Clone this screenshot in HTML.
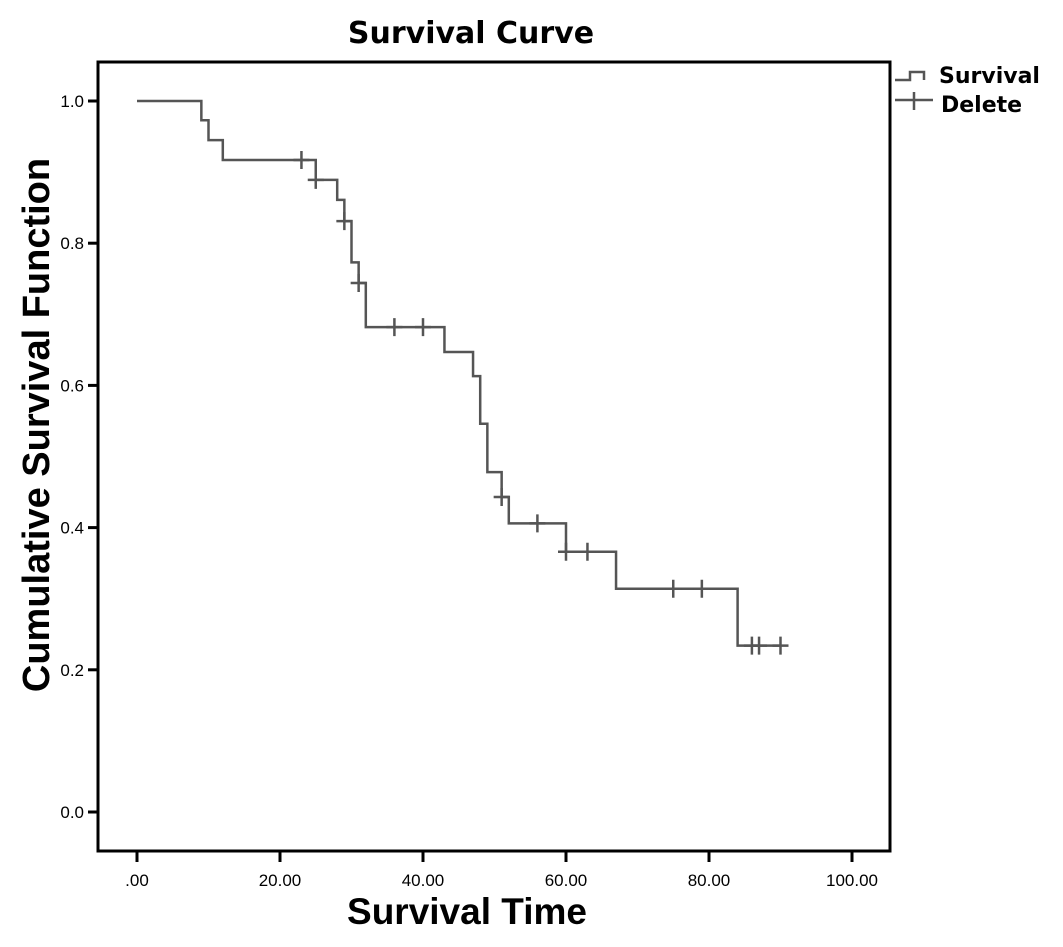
<!DOCTYPE html>
<html><head><meta charset="utf-8"><style>
body{margin:0;background:#fff;}
svg{display:block;font-family:"Liberation Sans",Arial,sans-serif;}
</style></head><body>
<svg id="chart" width="1063" height="947" viewBox="0 0 1063 947">
<text x="471" y="43" text-anchor="middle" font-size="30" font-weight="bold" font-family="DejaVu Sans, sans-serif">Survival Curve</text>
<rect x="98" y="62" width="792" height="789" fill="none" stroke="#000" stroke-width="3"/>
<g id="axes"></g>
<g id="series"></g>
<text transform="translate(49,425) rotate(-90)" text-anchor="middle" font-size="38" font-weight="bold">Cumulative Survival Function</text>
<text x="467" y="924" text-anchor="middle" font-size="37" font-weight="bold">Survival Time</text>
<g>
<path d="M895,80 H910 V72 H924 V80" fill="none" stroke="#555" stroke-width="2.5"/>
<text x="939" y="83" font-size="22" font-weight="bold" font-family="DejaVu Sans, sans-serif">Survival</text>
<path d="M895,100 H933 M914,92 V110" fill="none" stroke="#555" stroke-width="2.5"/>
<text x="941" y="112" font-size="22" font-weight="bold" font-family="DejaVu Sans, sans-serif">Delete</text>
</g>
</svg>
<script>
const xTicks=[0,20,40,60,80,100];
const xTickLabels=[".00","20.00","40.00","60.00","80.00","100.00"];
const yTicks=[0,0.2,0.4,0.6,0.8,1.0];
const yTickLabels=["0.0","0.2","0.4","0.6","0.8","1.0"];
const stepTimes=[9,10,12,25,28,29,30,31,32,43,47,48,49,51,52,60,67,84];
const survivalAfter=[0.973,0.945,0.917,0.889,0.861,0.831,0.773,0.744,0.682,0.647,0.613,0.546,0.478,0.443,0.406,0.366,0.314,0.234];
const endTime=90;
const censorTimes=[23,25,29,31,36,40,51,56,60,63,75,79,86,87,90];

const NS="http://www.w3.org/2000/svg";
const xs=t=>137+t*7.15;
const ys=v=>812-v*711;
function mk(tag,attrs,parent){const e=document.createElementNS(NS,tag);for(const k in attrs)e.setAttribute(k,attrs[k]);parent.appendChild(e);return e;}
const axes=document.getElementById('axes');
xTicks.forEach((t,i)=>{
  const l=mk('line',{x1:xs(t),x2:xs(t),y1:851,y2:862,stroke:'#000','stroke-width':3},axes);
  
  
  const tx=mk('text',{x:xs(t),y:886,'text-anchor':'middle','font-size':17},axes);
  tx.textContent=xTickLabels[i];
  
  
});
yTicks.forEach((v,i)=>{
  const l=mk('line',{x1:88,x2:98,y1:ys(v),y2:ys(v),stroke:'#000','stroke-width':3},axes);
  
  
  const tx=mk('text',{x:84,y:ys(v)+6,'text-anchor':'end','font-size':17},axes);
  tx.textContent=yTickLabels[i];
  
  
});
const series=document.getElementById('series');
let d='M'+xs(0)+','+ys(1);
stepTimes.forEach((t,i)=>{d+=' H'+xs(t)+' V'+ys(survivalAfter[i]);});
d+=' H'+xs(endTime);
const p=mk('path',{d:d,fill:'none',stroke:'#555','stroke-width':2.5},series);


function survAt(t){let s=1;stepTimes.forEach((st,i)=>{if(st<=t)s=survivalAfter[i];});return s;}
censorTimes.forEach(t=>{
  const x=xs(t),y=ys(survAt(t));
  const c=mk('path',{d:`M${x-8},${y} H${x+8} M${x},${y-9} V${y+9}`,stroke:'#555','stroke-width':2.5,fill:'none'},series);
  
  
});
</script>
</body></html>
